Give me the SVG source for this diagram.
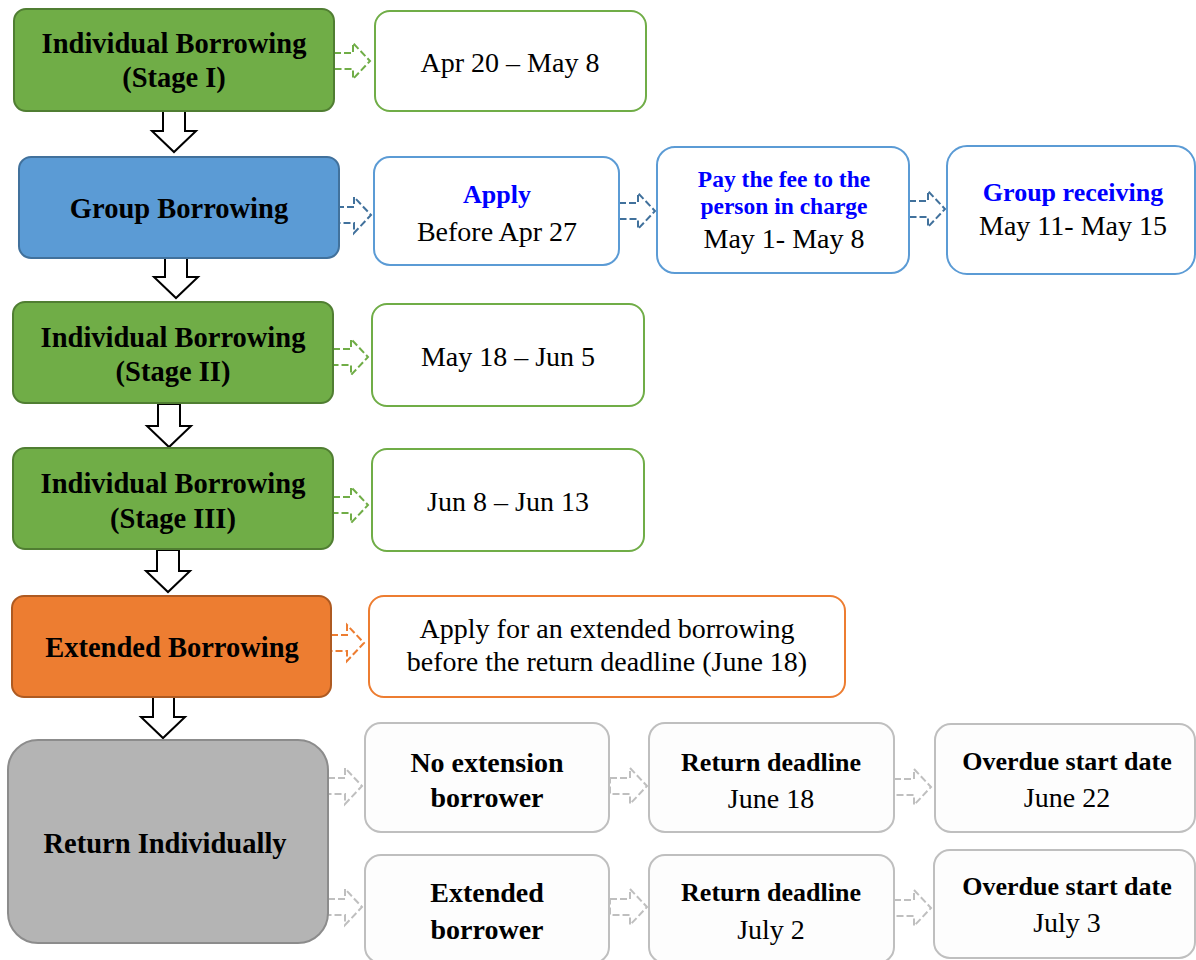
<svg xmlns="http://www.w3.org/2000/svg" width="1196" height="960" viewBox="0 0 1196 960">
<style>
text{font-family:"Liberation Serif","Times New Roman",serif;text-anchor:middle;fill:#000}
.t{font-size:28.5px;font-weight:bold}
.r{font-size:28px}
.b{font-size:26px;font-weight:bold;fill:#0000FF}
.bs{font-size:23.5px;font-weight:bold;fill:#0000FF}
.k{font-size:28px;font-weight:bold}
.k2{font-size:26px;font-weight:bold}
.g{fill:#70AD47;stroke:#507E32;stroke-width:2}
.bl{fill:#5B9BD5;stroke:#41719C;stroke-width:2}
.o{fill:#ED7D31;stroke:#AE5A21;stroke-width:2}
.gr{fill:#B4B4B4;stroke:#8C8C8C;stroke-width:2}
.wg{fill:#FFFFFF;stroke:#70AD47;stroke-width:2}
.wb{fill:#FFFFFF;stroke:#5B9BD5;stroke-width:2}
.wo{fill:#FFFFFF;stroke:#ED7D31;stroke-width:2}
.wy{fill:#FDFDFD;stroke:#BFBFBF;stroke-width:2}
.down{fill:#FFFFFF;stroke:#000;stroke-width:2}
.dg{fill:#FFFFFF;stroke:#70AD47;stroke-width:2;stroke-dasharray:7 3}
.db{fill:#FFFFFF;stroke:#41719C;stroke-width:2;stroke-dasharray:7 3}
.do{fill:#FFFFFF;stroke:#ED7D31;stroke-width:2;stroke-dasharray:7 3}
.dy{fill:#FFFFFF;stroke:#BFBFBF;stroke-width:2;stroke-dasharray:7 3}
</style>
<rect width="1196" height="960" fill="#FFFFFF"/>
<g id="connectors">
<path class="down" d="M163,111 H185 V131 H196 L174,152 L152,131 H163 Z"/>
<path class="down" d="M165,258 H187 V277 H198 L176,298 L154,277 H165 Z"/>
<path class="down" d="M158,404 H180 V426 H191 L169,447 L147,426 H158 Z"/>
<path class="down" d="M157,550 H179 V571 H190 L168,592 L146,571 H157 Z"/>
<path class="down" d="M153,697 H174 V717 H185 L163,738 L141,717 H153 Z"/>
<path class="dg" d="M334,53 H353 V43 L370,61 L353,79 V69 H334 Z"/>
<path class="db" d="M337,207 H354 V197 L371,215 L354,233 V223 H337 Z"/>
<path class="db" d="M619,203 H638 V193 L655,211 L638,229 V219 H619 Z"/>
<path class="db" d="M909,201 H928 V191 L945,209 L928,227 V217 H909 Z"/>
<path class="dg" d="M333,349 H351 V339 L368,357 L351,375 V365 H333 Z"/>
<path class="dg" d="M333,497 H351 V487 L368,505 L351,523 V513 H333 Z"/>
<path class="do" d="M331,635 H347 V625 L364,643 L347,661 V651 H331 Z"/>
<path class="dy" d="M328,778 H345 V768 L362,786 L345,804 V794 H328 Z"/>
<path class="dy" d="M328,899 H345 V889 L362,907 L345,925 V915 H328 Z"/>
<path class="dy" d="M610,778 H630 V768 L647,786 L630,804 V794 H610 Z"/>
<path class="dy" d="M610,899 H630 V889 L647,907 L630,925 V915 H610 Z"/>
<path class="dy" d="M894,779 H914 V769 L931,787 L914,805 V795 H894 Z"/>
<path class="dy" d="M894,900 H914 V890 L931,908 L914,926 V916 H894 Z"/>
</g>
<g id="n-stage1">
<rect class="g" x="14" y="9" width="320" height="102" rx="12"/>
<text class="t" x="174" y="53">Individual Borrowing</text>
<text class="t" x="174" y="87">(Stage I)</text>
</g>
<g id="n-group">
<rect class="bl" x="19" y="157" width="320" height="101" rx="12"/>
<text class="t" x="179" y="218">Group Borrowing</text>
</g>
<g id="n-stage2">
<rect class="g" x="13" y="302" width="320" height="101" rx="12"/>
<text class="t" x="173" y="347">Individual Borrowing</text>
<text class="t" x="173" y="381">(Stage II)</text>
</g>
<g id="n-stage3">
<rect class="g" x="13" y="448" width="320" height="101" rx="12"/>
<text class="t" x="173" y="493">Individual Borrowing</text>
<text class="t" x="173" y="528">(Stage III)</text>
</g>
<g id="n-extended">
<rect class="o" x="12" y="596" width="319" height="101" rx="12"/>
<text class="t" x="172" y="657">Extended Borrowing</text>
</g>
<g id="n-return">
<rect class="gr" x="8" y="740" width="320" height="203" rx="30"/>
<text class="t" x="165" y="853">Return Individually</text>
</g>
<g id="r-stage1">
<rect class="wg" x="375" y="11" width="271" height="100" rx="15"/>
<text class="r" x="510" y="72">Apr 20 – May 8</text>
</g>
<g id="r-apply">
<rect class="wb" x="374" y="157" width="245" height="108" rx="16"/>
<text class="b" x="497" y="203">Apply</text>
<text class="r" x="497" y="241">Before Apr 27</text>
</g>
<g id="r-pay">
<rect class="wb" x="657" y="147" width="252" height="126" rx="18"/>
<text class="bs" x="784" y="187">Pay the fee to the</text>
<text class="bs" x="784" y="214">person in charge</text>
<text class="r" x="784" y="248">May 1- May 8</text>
</g>
<g id="r-receive">
<rect class="wb" x="947" y="146" width="248" height="128" rx="20"/>
<text class="b" x="1073" y="201">Group receiving</text>
<text class="r" x="1073" y="235">May 11- May 15</text>
</g>
<g id="r-stage2">
<rect class="wg" x="372" y="304" width="272" height="102" rx="15"/>
<text class="r" x="508" y="366">May 18 – Jun 5</text>
</g>
<g id="r-stage3">
<rect class="wg" x="372" y="449" width="272" height="102" rx="15"/>
<text class="r" x="508" y="511">Jun 8 – Jun 13</text>
</g>
<g id="r-extended">
<rect class="wo" x="369" y="596" width="476" height="101" rx="15"/>
<text class="r" x="607" y="638">Apply for an extended borrowing</text>
<text class="r" x="607" y="671">before the return deadline (June 18)</text>
</g>
<g id="r-noext">
<rect class="wy" x="365" y="723" width="244" height="109" rx="16"/>
<text class="k" x="487" y="772">No extension</text>
<text class="k" x="487" y="807">borrower</text>
</g>
<g id="r-extborrower">
<rect class="wy" x="365" y="855" width="244" height="108" rx="16"/>
<text class="k" x="487" y="902">Extended</text>
<text class="k" x="487" y="939">borrower</text>
</g>
<g id="r-deadline1">
<rect class="wy" x="649" y="723" width="245" height="109" rx="16"/>
<text class="k2" x="771" y="771">Return deadline</text>
<text class="r" x="771" y="808">June 18</text>
</g>
<g id="r-deadline2">
<rect class="wy" x="649" y="855" width="245" height="108" rx="16"/>
<text class="k2" x="771" y="901">Return deadline</text>
<text class="r" x="771" y="939">July 2</text>
</g>
<g id="r-overdue1">
<rect class="wy" x="935" y="724" width="260" height="108" rx="16"/>
<text class="k2" x="1067" y="770">Overdue start date</text>
<text class="r" x="1067" y="807">June 22</text>
</g>
<g id="r-overdue2">
<rect class="wy" x="934" y="850" width="261" height="108" rx="16"/>
<text class="k2" x="1067" y="895">Overdue start date</text>
<text class="r" x="1067" y="932">July 3</text>
</g>
</svg>
